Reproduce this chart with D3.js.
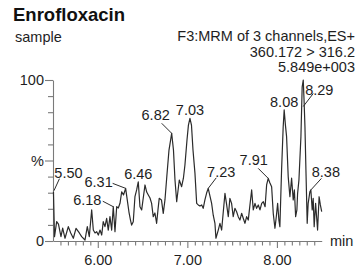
<!DOCTYPE html>
<html>
<head>
<meta charset="utf-8">
<script src="https://cdn.jsdelivr.net/npm/d3@7/dist/d3.min.js"></script>
<style>
  html, body { margin: 0; padding: 0; background: #fff; }
  svg { display: block; font-family: "Liberation Sans", Arial, sans-serif; }
</style>
</head>
<body>
<div id="chart"></div>
<script>
// retention time (min) and relative intensity (%)
const times = [
  5.505, 5.517, 5.541, 5.561, 5.589, 5.608, 5.634, 5.671, 5.698, 5.727,
  5.757, 5.794, 5.820, 5.857, 5.883, 5.905, 5.932, 5.950, 5.969, 5.988,
  6.006, 6.025, 6.044, 6.061, 6.080, 6.099, 6.117, 6.136, 6.155, 6.173,
  6.192, 6.211, 6.229, 6.248, 6.267, 6.287, 6.311, 6.329, 6.348, 6.365,
  6.378, 6.396, 6.415, 6.434, 6.452, 6.471, 6.490, 6.527, 6.546, 6.564,
  6.583, 6.601, 6.619, 6.638, 6.657, 6.672, 6.686, 6.711, 6.731, 6.750,
  6.772, 6.795, 6.825, 6.845, 6.862, 6.881, 6.910, 6.936, 6.956, 6.973,
  6.996, 7.012, 7.029, 7.046, 7.063, 7.085, 7.104, 7.122, 7.141, 7.160,
  7.177, 7.196, 7.215, 7.233, 7.252, 7.271, 7.289, 7.308, 7.319, 7.345,
  7.364, 7.383, 7.401, 7.420, 7.439, 7.457, 7.475, 7.494, 7.512, 7.531,
  7.550, 7.568, 7.587, 7.606, 7.624, 7.643, 7.662, 7.680, 7.699, 7.718,
  7.736, 7.755, 7.773, 7.792, 7.811, 7.830, 7.848, 7.868, 7.885, 7.903,
  7.922, 7.941, 7.959, 7.978, 7.994, 8.008, 8.022, 8.033, 8.052, 8.070,
  8.081, 8.095, 8.108, 8.126, 8.145, 8.164, 8.182, 8.195, 8.209, 8.223,
  8.231, 8.246, 8.268, 8.282, 8.294, 8.303, 8.313, 8.324, 8.338, 8.349,
  8.368, 8.379, 8.394, 8.405, 8.416, 8.432, 8.443, 8.454, 8.471, 8.485,
  8.500
];
const intensity = [
  30.6, 2.7, 12.0, 10.5, 2.7, 8.0, 1.7, 8.9, 5.0, 1.7,
  7.9, 5.0, 2.7, 0.6, 8.9, 2.7, 19.3, 6.8, 5.0, 5.8,
  3.7, 6.8, 3.7, 12.0, 8.9, 14.1, 6.8, 15.1, 6.8, 21.3,
  5.8, 21.3, 20.5, 23.4, 30.6, 28.6, 32.7, 25.5, 18.0, 13.0,
  9.9, 12.0, 27.5, 31.7, 36.8, 21.3, 19.3, 34.8, 30.4, 28.6,
  26.7, 23.4, 15.1, 17.4, 11.0, 19.3, 26.5, 25.5, 17.2, 25.5,
  41.0, 56.5, 66.9, 56.5, 37.9, 24.4, 37.9, 33.7, 39.0, 47.2,
  62.7, 72.0, 76.2, 72.0, 56.5, 42.0, 23.4, 22.4, 21.7, 22.4,
  20.3, 25.5, 29.8, 32.7, 28.0, 23.4, 16.0, 11.0, 1.7, 6.8,
  11.0, 6.8, 18.0, 29.6, 22.4, 15.1, 26.5, 23.4, 15.1, 20.3,
  18.2, 15.1, 13.0, 17.2, 14.1, 11.0, 15.1, 13.0, 22.4, 31.7,
  19.3, 23.4, 20.3, 22.4, 19.3, 23.4, 24.4, 21.3, 34.8, 38.9,
  36.0, 33.7, 17.2, 7.9, 15.5, 23.4, 13.0, 8.9, 44.0, 71.0,
  81.4, 72.0, 64.8, 40.0, 27.5, 39.0, 25.5, 31.7, 15.1, 19.3,
  29.6, 38.0, 64.8, 95.8, 100.0, 87.6, 71.0, 44.0, 11.0, 23.4,
  30.6, 31.7, 19.3, 26.5, 8.9, 23.4, 15.1, 6.8, 27.5, 22.4,
  18.2
];

const peakTimes = [5.50, 6.18, 6.31, 6.46, 6.82, 7.03, 7.23, 7.91, 8.08, 8.29, 8.38];
const peakLabels = ["5.50", "6.18", "6.31", "6.46", "6.82", "7.03", "7.23", "7.91", "8.08", "8.29", "8.38"];

const xMajorTicks = [6, 7, 8];
const yMajorTicks = [0, 50, 100];
const yMajorLabels = ["0", "%", "100"];

const titleText = "Enrofloxacin";
const sampleText = "sample";
const headerLines = ["F3:MRM of 3 channels,ES+", "360.172 > 316.2", "5.849e+003"];
const unitText = "min";

// label placement relative to the peak point: text centre/baseline and leader line
const labelLayout = {
  "5.50": { dx: 15, dy: -13.5, lead: [[0.5, -1], [6, -13]] },
  "6.18": { dx: -26, dy: -1.5, lead: [[0, 0], [-10.5, -5.5]] },
  "6.31": { dx: -27, dy: -1.5, lead: [[0, 0], [-13, -5]] },
  "6.46": { dx: 0, dy: -3 },
  "6.82": { dx: -16, dy: -13.5, lead: [[0, 0], [-10, -10]] },
  "7.03": { dx: 0, dy: -3.5 },
  "7.23": { dx: 13, dy: -11.5, lead: [[0, 0], [8, -10.5]] },
  "7.91": { dx: -14.5, dy: -13.5, lead: [[0, 0], [-10, -10]] },
  "8.08": { dx: 0, dy: -3 },
  "8.29": { dx: 16, dy: 15, lead: [[0, 26.5], [10, 13.5]] },
  "8.38": { dx: 15, dy: -13, lead: [[0, 0], [10.5, -11.5]] }
};

const W = 360, H = 269;
const axisColor = "#7a7a7a", traceColor = "#2b2b2b", textColor = "#1e1e1e";
const fs = 14.5;

const svg = d3.select("#chart").append("svg")
  .attr("width", W).attr("height", H);

const x = d3.scaleLinear().domain([5.5, 8.5]).range([53, 321.7]);
const y = d3.scaleLinear().domain([0, 100]).range([241, 80]);

/* ── header ── */
svg.append("text")
  .attr("x", 13).attr("y", 21)
  .attr("font-size", 18.5).attr("font-weight", "bold")
  .attr("fill", "#111")
  .text(titleText);

svg.append("text")
  .attr("x", 15).attr("y", 42)
  .attr("font-size", fs).attr("fill", textColor)
  .text(sampleText);

svg.append("g").selectAll("text")
  .data(headerLines)
  .join("text")
  .attr("x", 355)
  .attr("y", (d, i) => 41 + i * 15.5)
  .attr("text-anchor", "end")
  .attr("font-size", fs).attr("fill", textColor)
  .text(d => d);

/* ── axes ── */
function styleAxis(g) {
  g.selectAll("path, line").attr("stroke", axisColor).attr("stroke-width", 1.1);
  g.selectAll("text").attr("fill", textColor).attr("font-size", fs)
    .attr("font-family", '"Liberation Sans", Arial, sans-serif');
}

const xMinor = d3.range(1, 36).map(i => 5.5 + i / 12)
  .filter(v => !xMajorTicks.some(m => Math.abs(m - v) < 1e-6));

svg.append("g")
  .attr("transform", `translate(0,${y(0)})`)
  .call(d3.axisBottom(x).tickValues(xMinor).tickSize(4.5).tickFormat("").tickSizeOuter(0))
  .call(styleAxis);

svg.append("g")
  .attr("transform", `translate(0,${y(0)})`)
  .call(d3.axisBottom(x).tickValues(xMajorTicks).tickSize(7).tickPadding(7)
    .tickFormat(d3.format(".2f")).tickSizeOuter(0))
  .call(g => g.select(".domain").remove())
  .call(styleAxis);

const yMinor = d3.range(10, 100, 10).filter(v => v !== 50);

svg.append("g")
  .attr("transform", `translate(${x(5.5)},0)`)
  .call(d3.axisLeft(y).tickValues(yMinor).tickSize(5).tickFormat("").tickSizeOuter(0))
  .call(styleAxis);

svg.append("g")
  .attr("transform", `translate(${x(5.5)},0)`)
  .call(d3.axisLeft(y).tickValues(yMajorTicks).tickSize(8).tickPadding(1)
    .tickFormat((d, i) => yMajorLabels[i]).tickSizeOuter(0))
  .call(g => g.select(".domain").remove())
  .call(styleAxis);

svg.append("text")
  .attr("x", 330).attr("y", 246)
  .attr("font-size", fs).attr("fill", textColor)
  .text(unitText);

/* ── trace ── */
const series = times.map((t, i) => ({ t, v: intensity[i] }));

svg.append("path")
  .datum(series)
  .attr("fill", "none")
  .attr("stroke", traceColor)
  .attr("stroke-width", 1.2)
  .attr("stroke-linejoin", "round")
  .attr("d", d3.line().x(d => x(d.t)).y(d => y(d.v)));

/* ── peak labels ── */
const peaks = peakTimes.map((pt, i) => {
  const near = d3.least(series, d => Math.abs(d.t - pt));
  return { label: peakLabels[i], px: x(near.t), py: y(near.v) };
});

const ann = svg.append("g");
peaks.forEach(p => {
  const L = labelLayout[p.label];
  if (L.lead) {
    ann.append("line")
      .attr("x1", p.px + L.lead[0][0]).attr("y1", p.py + L.lead[0][1])
      .attr("x2", p.px + L.lead[1][0]).attr("y2", p.py + L.lead[1][1])
      .attr("stroke", traceColor).attr("stroke-width", 1);
  }
  ann.append("text")
    .attr("x", p.px + L.dx).attr("y", p.py + L.dy)
    .attr("text-anchor", "middle")
    .attr("font-size", fs).attr("fill", textColor)
    .attr("paint-order", "stroke").attr("stroke", "#fff").attr("stroke-width", 0)
    .text(p.label);
});
</script>
</body>
</html>
